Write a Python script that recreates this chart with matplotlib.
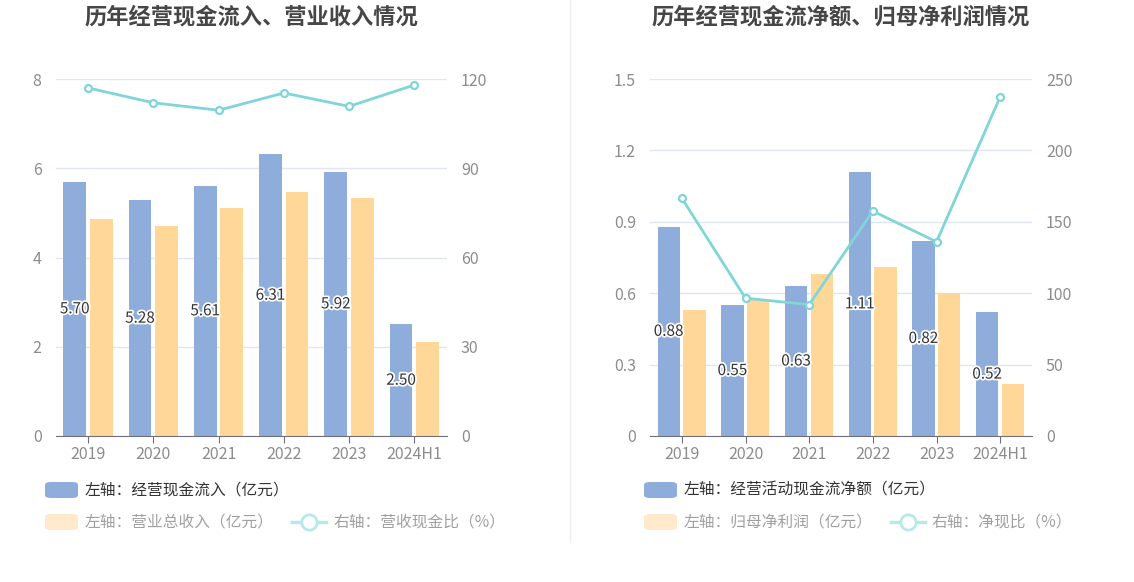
import matplotlib

matplotlib.use("Agg")
import matplotlib.pyplot as plt
import matplotlib.patheffects as pe
from matplotlib.patches import FancyBboxPatch
from matplotlib.lines import Line2D
import numpy as np

plt.rcParams["font.family"] = ["Noto Sans CJK SC", "DejaVu Sans"]

years = ["2019", "2020", "2021", "2022", "2023", "2024H1"]

# 左图：经营现金流入 / 营业总收入（亿元），营收现金比（%）
cash_in = [5.70, 5.28, 5.61, 6.31, 5.92, 2.50]
revenue = [4.87, 4.71, 5.11, 5.47, 5.34, 2.11]
cash_rev_ratio = [117.0, 112.0, 109.5, 115.3, 110.8, 118.0]

# 右图：经营活动现金流净额 / 归母净利润（亿元），净现比（%）
net_cash = [0.88, 0.55, 0.63, 1.11, 0.82, 0.52]
net_profit = [0.53, 0.57, 0.68, 0.71, 0.60, 0.22]
net_cash_ratio = [166.5, 96.5, 92.0, 157.5, 136.0, 237.5]

W, H = 1134, 582
BLUE = "#8eaddb"
ORANGE = "#ffd899"
LINE = "#80d5d8"
GRID = "#e0e6f1"
TICK = "#8c8c8c"
TITLE = "#464646"

fig = plt.figure(figsize=(W / 100, H / 100), dpi=100)


def px_axes(x0, x1, y0, y1):
    return fig.add_axes([x0 / W, 1 - y1 / H, (x1 - x0) / W, (y1 - y0) / H])


def draw_panel(x0, x1, title, bars_a, bars_b, ratio, ylim, yticks, ylabels, rlim, rticks):
    ax = px_axes(x0, x1, 79, 436)
    x = np.arange(len(years))
    w = 0.35
    ax.bar(x - 0.205, bars_a, w, color=BLUE, zorder=2)
    ax.bar(x + 0.2, bars_b, w, color=ORANGE, zorder=2)
    for xi, v in zip(x, bars_a):
        ax.text(xi - 0.205, v / 2, f"{v:.2f}", ha="center", va="center", fontsize=11,
                color="#333333", zorder=5,
                path_effects=[pe.withStroke(linewidth=2.5, foreground="white")])
    ax.set_xlim(-0.5, len(years) - 0.5)
    ax.set_ylim(*ylim)
    ax.set_yticks(yticks)
    ax.set_yticklabels(ylabels)
    ax.set_xticks(x)
    ax.set_xticklabels(years)
    ax.grid(axis="y", color=GRID, linewidth=1, zorder=0)
    for s in ["top", "right", "left"]:
        ax.spines[s].set_visible(False)
    ax.spines["bottom"].set_color("#6e7079")
    ax.tick_params(axis="y", length=0, colors=TICK, labelsize=11.5, pad=10)
    ax.tick_params(axis="x", length=5, color="#6e7079", colors=TICK, labelsize=11.5, pad=2)
    ax.tick_params(axis="x", which="both", color="#6e7079")

    ax2 = ax.twinx()
    ax2.plot(x, ratio, color=LINE, linewidth=2, marker="o", markersize=5,
             markerfacecolor="white", markeredgecolor=LINE, markeredgewidth=1.6, zorder=4)
    ax2.set_ylim(*rlim)
    ax2.set_yticks(rticks)
    for s in ax2.spines.values():
        s.set_visible(False)
    ax2.tick_params(axis="y", length=0, colors=TICK, labelsize=11.5, pad=10)
    ax.patch.set_visible(False)
    # line on top of bars
    ax2.set_zorder(ax.get_zorder() + 1)
    ax2.patch.set_visible(False)

    fig.text((x0 + x1) / 2 / W, 1 - 17 / H, title, ha="center", va="center",
             fontsize=16, fontweight="bold", color=TITLE)


draw_panel(55.5, 447, "历年经营现金流入、营业收入情况", cash_in, revenue, cash_rev_ratio,
           (0, 8), [0, 2, 4, 6, 8], ["0", "2", "4", "6", "8"], (0, 120), [0, 30, 60, 90, 120])
draw_panel(650, 1032, "历年经营现金流净额、归母净利润情况", net_cash, net_profit, net_cash_ratio,
           (0, 1.5), [0, 0.3, 0.6, 0.9, 1.2, 1.5], ["0", "0.3", "0.6", "0.9", "1.2", "1.5"],
           (0, 250), [0, 50, 100, 150, 200, 250])

# divider
fig.add_artist(Line2D([570 / W, 570 / W], [1 - 0 / H, 1 - 542 / H], color="#eeeeee", linewidth=1))


def legend_patch(xl, yc, color):
    fig.add_artist(FancyBboxPatch((xl / W, 1 - (yc + 8) / H), 33 / W, 16 / H,
                                  boxstyle="round,pad=0,rounding_size=0.005",
                                  transform=fig.transFigure, facecolor=color, edgecolor="none"))


def legend_line(xl, yc):
    fig.add_artist(Line2D([xl / W, (xl + 34) / W], [1 - yc / H, 1 - yc / H], color="#b7e9eb",
                          linewidth=2.5, marker="None"))
    fig.add_artist(Line2D([(xl + 17) / W], [1 - yc / H], color="#b7e9eb", marker="o",
                          markersize=11, markerfacecolor="white", markeredgewidth=2, linestyle="None"))


def legend_text(xl, yc, s, color):
    fig.text(xl / W, 1 - yc / H, s, ha="left", va="center", fontsize=11.3, color=color)


for lx, t1, t2, t3, lx2 in [
    (45, "左轴：经营现金流入（亿元）", "左轴：营业总收入（亿元）", "右轴：营收现金比（%）", 292),
    (644, "左轴：经营活动现金流净额（亿元）", "左轴：归母净利润（亿元）", "右轴：净现比（%）", 891),
]:
    legend_patch(lx, 490, BLUE)
    legend_text(lx + 40, 490, t1, "#333333")
    legend_patch(lx, 522, "#ffebcc")
    legend_text(lx + 40, 522, t2, "#a0a0a0")
    legend_line(lx2, 522)
    legend_text(lx2 + 41, 522, t3, "#a0a0a0")

fig.savefig("out.png", dpi=100, facecolor="white")
